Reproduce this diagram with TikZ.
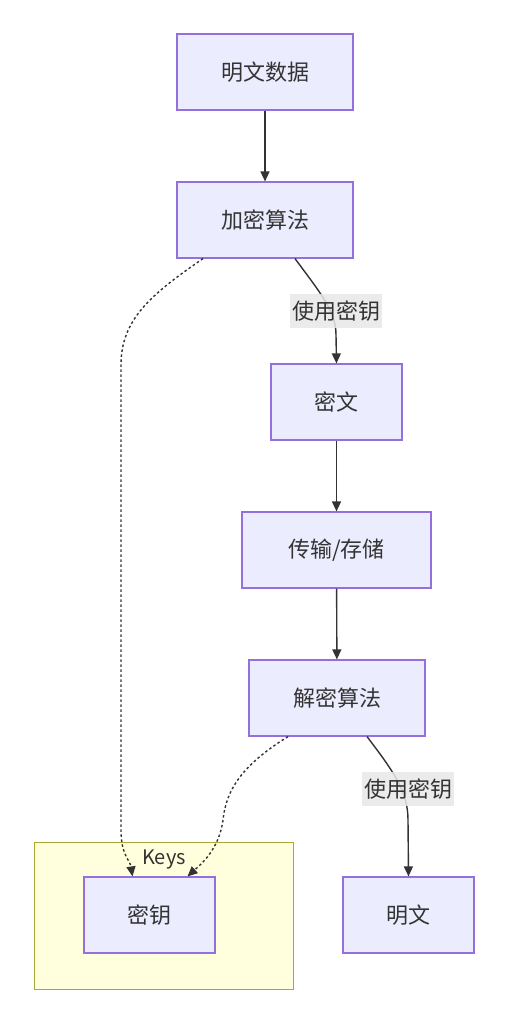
\documentclass[tikz,border=0pt]{standalone}
\usepackage{fontspec}
\setmainfont{Noto Sans CJK SC}
\usetikzlibrary{arrows.meta,calc}
\definecolor{nodefill}{HTML}{ECECFF}
\definecolor{nodeline}{HTML}{9370DB}
\definecolor{clusterfill}{HTML}{FFFFDE}
\definecolor{clusterline}{HTML}{AAAA33}
\definecolor{edgecol}{HTML}{333333}
\definecolor{txtcol}{HTML}{333333}
\definecolor{labelbg}{HTML}{E8E8E8}
\tikzset{
  box/.style={draw=nodeline, fill=nodefill, line width=1.2pt, minimum height=76pt, inner sep=0pt, text=txtcol, font=\fontsize{22}{26}\selectfont},
  edge/.style={draw=edgecol, line width=1.4pt, -{Triangle[length=10pt,width=9pt]}},
  dotedge/.style={edge, dash pattern=on 2.5pt off 2.5pt},
  elabel/.style={fill=labelbg, fill opacity=0.85, text opacity=1, text=txtcol, inner sep=2pt, minimum height=34pt, font=\fontsize{22}{26}\selectfont},
  cluster/.style={draw=clusterline, fill=clusterfill, line width=1pt},
}
\begin{document}
\begin{tikzpicture}[x=1pt,y=-1pt]
\useasboundingbox (0,0) rectangle (508,1024);
\fill[white] (0,0) rectangle (508,1024);
% cluster
\node[cluster, minimum width=259pt, minimum height=147pt, inner sep=0pt] (keys) at (163.5,915.5) {};
\node[text=txtcol, font=\fontsize{20}{24}\selectfont, inner sep=0pt] (keyslabel) at (164,859) {Keys};
% nodes
\node[box, minimum width=176pt] (pd) at (265,72) {明文数据};
\node[box, minimum width=176pt] (enc) at (265,220) {加密算法};
\node[box, minimum width=131pt] (ct) at (336.5,402) {密文};
\node[box, minimum width=189pt] (ts) at (336.5,550) {传输/存储};
\node[box, minimum width=176pt] (dec) at (337,698) {解密算法};
\node[box, minimum width=131pt] (key) at (149.5,915) {密钥};
\node[box, minimum width=131pt] (pt) at (408.5,915) {明文};
% edges
\draw[edge] (pd) -- (enc);
\draw[edge] ([xshift=30pt]enc.south) .. controls (322,295) and (336,312) .. (336,335) -- (ct.north);
\draw[dotedge] ([xshift=-62pt]enc.south) .. controls (150,295) and (121,320) .. (121,365) -- (121,830) .. controls (121,855) and (130,860) .. ([xshift=-17pt]key.north);
\draw[edge] (ct) -- (ts);
\draw[edge] (ts) -- (dec);
\draw[dotedge] ([xshift=-49pt]dec.south) .. controls (242,765) and (226,790) .. (223,820) .. controls (219,850) and (200,865) .. ([xshift=38pt]key.north);
\draw[edge] ([xshift=30pt]dec.south) .. controls (394,772) and (408,792) .. (408,820) -- (pt.north);
% edge labels
\node[elabel] (l1) at (336,311) {使用密钥};
\node[elabel] (l2) at (408,789) {使用密钥};
\end{tikzpicture}
\end{document}
